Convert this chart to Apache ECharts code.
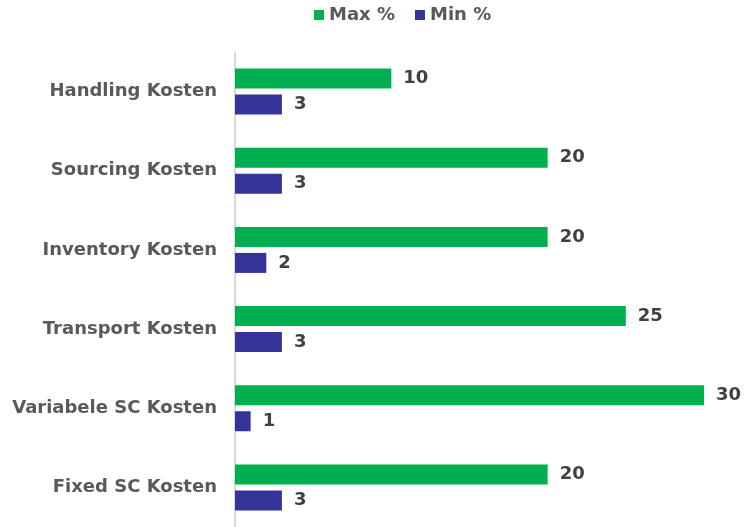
<!DOCTYPE html>
<html><head><meta charset="utf-8">
<script src="https://cdn.jsdelivr.net/npm/echarts@6/dist/echarts.min.js"></script>
<style>html,body{margin:0;padding:0;background:#fff}#c{width:744px;height:527px}</style>
</head><body><div id="c"></div>
<script>
var categories = ["Handling Kosten","Sourcing Kosten","Inventory Kosten","Transport Kosten","Variabele SC Kosten","Fixed SC Kosten"];
var maxValues = [10,20,20,25,30,20];
var minValues = [3,3,2,3,1,3];
var seriesNames = ["Max %","Min %"];
var font = "'DejaVu Sans'";
var chart = echarts.init(document.getElementById('c'));
chart.setOption({
  animation:false,
  legend:{top:1,left:309,itemWidth:10,itemHeight:10,itemGap:20,icon:'rect',
    textStyle:{fontFamily:font,fontWeight:'bold',fontSize:18,color:'#595959'},data:seriesNames},
  grid:{left:235,right:40,top:52,bottom:-2,containLabel:false},
  xAxis:{type:'value',min:0,max:30,show:false},
  yAxis:{type:'category',data:categories,inverse:true,
    axisLine:{show:true,lineStyle:{color:'#d9d9d9',width:2}},axisTick:{show:false},
    axisLabel:{fontFamily:font,fontWeight:'bold',fontSize:18,color:'#595959',margin:18}},
  series:[
    {name:seriesNames[0],type:'bar',data:maxValues,barWidth:20,barGap:'30%',itemStyle:{color:'#00b050'},
     label:{show:true,position:'right',distance:12,fontFamily:font,fontWeight:'bold',fontSize:18,color:'#404040'}},
    {name:seriesNames[1],type:'bar',data:minValues,barWidth:20,barGap:'30%',itemStyle:{color:'#333399'},
     label:{show:true,position:'right',distance:12,fontFamily:font,fontWeight:'bold',fontSize:18,color:'#404040'}}
  ]
});
</script></body></html>
